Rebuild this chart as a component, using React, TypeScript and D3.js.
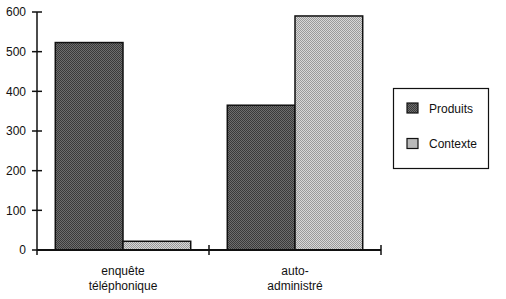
import React from "react";
import * as d3 from "d3";

const categories = ["enquête\ntéléphonique", "auto-\nadministré"];
const seriesNames = ["Produits", "Contexte"];
const produits = [523, 365];
const contexte = [22, 590];
const yTicks = [0, 100, 200, 300, 400, 500, 600];

export default function App() {
  const W = 506, H = 299;
  const x0 = 37, x1 = 381, yBase = 250, yTop = 12;
  const x = d3.scaleBand().domain(categories).range([x0, x1]).paddingInner(0).paddingOuter(0);
  const inner = d3.scaleBand().domain(seriesNames).range([0, x.bandwidth()]).paddingOuter(0.27).paddingInner(0);
  const y = d3.scaleLinear().domain([0, 600]).range([yBase, yTop]);
  const values = [produits, contexte];
  const fills = ["url(#pDark)", "url(#pLight)"];
  const font = "'Liberation Sans', Arial, sans-serif";
  const tickEdges = [x0, ...categories.map((c) => (x(c) as number) + x.bandwidth())];

  return (
    <svg width={W} height={H} style={{ position: "absolute", left: 0, top: 0, background: "#fff" }} fontFamily={font}>
      <defs>
        <pattern id="pDark" width={2} height={2} patternUnits="userSpaceOnUse">
          <rect width={2} height={2} fill="#6e6e6e" />
          <rect width={1} height={1} fill="#3a3a3a" />
          <rect x={1} y={1} width={1} height={1} fill="#3a3a3a" />
        </pattern>
        <pattern id="pLight" width={2} height={2} patternUnits="userSpaceOnUse">
          <rect width={2} height={2} fill="#d8d8d8" />
          <rect width={1} height={1} fill="#9a9a9a" />
          <rect x={1} y={1} width={1} height={1} fill="#9a9a9a" />
        </pattern>
      </defs>
      {/* bars */}
      {categories.map((c, ci) =>
        seriesNames.map((s, si) => {
          const bx = (x(c) as number) + (inner(s) as number);
          const v = values[si][ci];
          return (
            <rect key={c + s} x={bx} y={y(v)} width={inner.bandwidth()} height={yBase - y(v)}
              fill={fills[si]} stroke="#111" strokeWidth={1.5} />
          );
        })
      )}
      {/* y axis */}
      <line x1={x0} x2={x0} y1={yTop} y2={yBase + 5} stroke="#111" strokeWidth={1.5} />
      {yTicks.map((t) => (
        <g key={t}>
          <line x1={x0 - 5} x2={x0 + 5} y1={y(t)} y2={y(t)} stroke="#111" strokeWidth={1.5} />
          <text x={26} y={y(t)} dy="0.35em" textAnchor="end" fontSize={12} fill="#111">{t}</text>
        </g>
      ))}
      {/* x axis */}
      <line x1={x0} x2={x1} y1={yBase} y2={yBase} stroke="#111" strokeWidth={2} />
      {tickEdges.slice(1).map((tx, i) => (
        <line key={i} x1={tx} x2={tx} y1={yBase - 5} y2={yBase + 5} stroke="#111" strokeWidth={1.5} />
      ))}
      {categories.map((c) => {
        const cx = (x(c) as number) + x.bandwidth() / 2;
        return (
          <text key={c} x={cx} y={275} textAnchor="middle" fontSize={12} fill="#111">
            {c.split("\n").map((line, i) => (
              <tspan key={i} x={cx} dy={i === 0 ? 0 : 15}>{line}</tspan>
            ))}
          </text>
        );
      })}
      {/* legend */}
      <rect x={393.5} y={88.5} width={95} height={80} fill="#fff" stroke="#111" strokeWidth={1.2} />
      {seriesNames.map((s, i) => (
        <g key={s} transform={`translate(407, ${103 + i * 35.5})`}>
          <rect x={0} y={0} width={11} height={10} fill={fills[i]} stroke="#111" strokeWidth={1.2} />
          <text x={22} y={9.5} fontSize={12} fill="#111">{s}</text>
        </g>
      ))}
    </svg>
  );
}
